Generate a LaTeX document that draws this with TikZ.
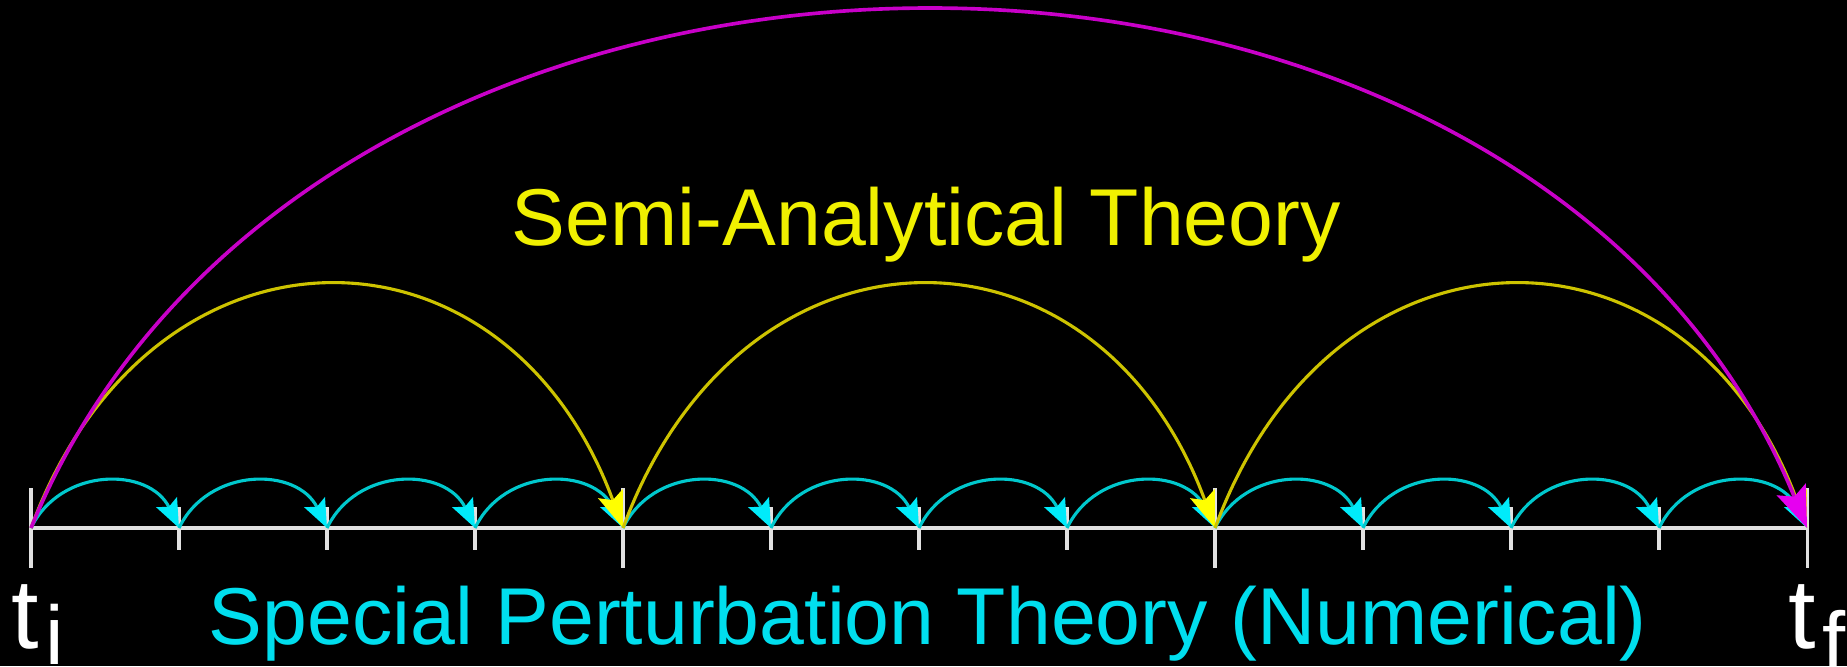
\documentclass[tikz,border=0pt]{standalone}
\usepackage{fontspec}
\setmainfont{Liberation Sans}
\usetikzlibrary{arrows.meta}

\definecolor{axisgray}{RGB}{225,225,225}
\definecolor{numcyan}{RGB}{0,200,205}
\definecolor{numcyantip}{RGB}{0,235,250}
\definecolor{numcyantext}{RGB}{0,222,238}
\definecolor{semiyellow}{RGB}{205,195,0}
\definecolor{semiyellowtip}{RGB}{255,255,0}
\definecolor{semiyellowtext}{RGB}{240,240,0}
\definecolor{fullmagenta}{RGB}{200,0,200}
\definecolor{fullmagentatip}{RGB}{230,0,240}

\begin{document}
\begin{tikzpicture}[
  axis/.style={draw=axisgray, line width=0.6pt},
  numstep/.style={draw=numcyan, line width=0.6pt,
    -{Stealth[length=5.5pt,width=4.4pt,inset=1pt,color=numcyantip]}},
  semistep/.style={draw=semiyellow, line width=0.6pt,
    -{Stealth[length=7pt,width=5pt,inset=1.3pt,color=semiyellowtip]}},
  fullstep/.style={draw=fullmagenta, line width=0.7pt,
    -{Stealth[length=8pt,width=6pt,inset=1.5pt,color=fullmagentatip]}},
  label/.style={font=\fontsize{15.5}{17}\selectfont, inner sep=0pt},
  timelabel/.style={font=\fontsize{19}{21}\selectfont, text=white, inner sep=0pt, anchor=base west},
  timesub/.style={font=\fontsize{16}{18}\selectfont, text=white, inner sep=0pt, anchor=base west}
]
  % Background
  \fill[black] (-0.2095,-0.9324) rectangle (12.270,3.5676);
  \useasboundingbox (-0.2095,-0.9324) rectangle (12.270,3.5676);
  % Time axis
  \foreach \i in {0,...,12}
    \coordinate (p\i) at (\i,0);
  \draw[axis] (p0) -- (p12);
  \foreach \i in {1,2,3,5,6,7,9,10,11}
    \draw[axis] ([yshift=0.14cm]p\i) -- ([yshift=-0.15cm]p\i);
  \foreach \i in {0,4,8,12}
    \draw[axis] ([yshift=0.27cm]p\i) -- ([yshift=-0.27cm]p\i);
  % Numerical steps
  \foreach \i [count=\j from 1] in {0,...,11}
    \draw[numstep] (p\i) .. controls +(0.2,0.415) and +(-0.2,0.415) .. (p\j);
  % Semi-analytical steps
  \foreach \a/\b in {0/4,4/8,8/12}
    \draw[semistep] (p\a) .. controls +(0.8,2.18) and +(-0.8,2.18) .. (p\b);
  % Single step
  \draw[fullstep] (p0) .. controls +(1.9,4.65) and +(-1.9,4.65) .. (p12);
  % Labels
  \node[label, text=semiyellowtext, anchor=base] (semi) at (6.05,1.912) {Semi-Analytical Theory};
  \node[label, text=numcyantext, anchor=base] (special) at (6.06,-0.784) {Special Perturbation Theory (Numerical)};
  \node[timelabel] (ti) at (-0.14,-0.811) {t};
  \node[timesub] (tisub) at ([shift={(0.03,-0.11)}]ti.base east) {i};
  \node[timelabel] (tf) at (11.866,-0.811) {t};
  \node[timesub] (tfsub) at ([shift={(0.03,-0.15)}]tf.base east) {f};
\end{tikzpicture}
\end{document}
